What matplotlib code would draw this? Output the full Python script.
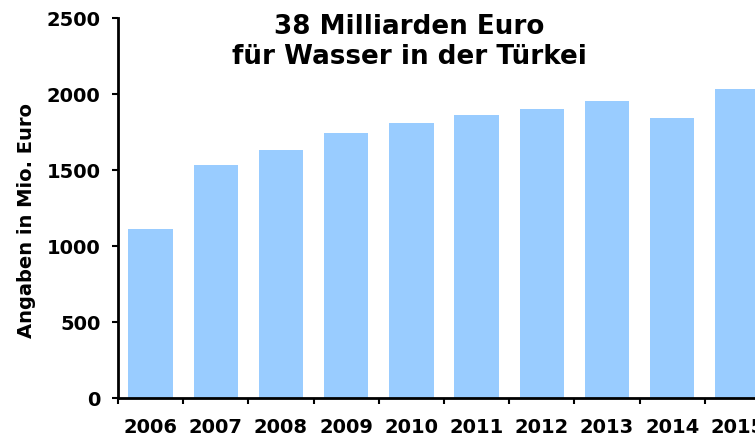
import matplotlib
matplotlib.use("Agg")
import matplotlib.pyplot as plt
import numpy as np

# Daten
jahre = ["2006", "2007", "2008", "2009", "2010", "2011", "2012", "2013", "2014", "2015"]
ausgaben = [1112, 1533, 1632, 1743, 1809, 1862, 1901, 1954, 1842, 2031]
y_ticks = [0, 500, 1000, 1500, 2000, 2500]

plt.rcParams["font.family"] = ["DejaVu Sans"]
plt.rcParams["font.weight"] = "bold"

fig = plt.figure(figsize=(7.55, 4.38), dpi=100)
# Achse reicht über den rechten Rand hinaus (wie im Original abgeschnitten)
ax = fig.add_axes([118 / 755, 40 / 438, 652 / 755, 380 / 438])

x = np.arange(len(jahre))
ax.bar(x, ausgaben, width=0.68, color="#99CCFF", zorder=2)

ax.set_xlim(-0.5, len(jahre) - 0.5)
ax.set_ylim(0, 2500)
ax.set_yticks(y_ticks)
ax.set_yticklabels([str(v) for v in y_ticks], fontsize=14, fontweight="bold")

ax.set_xticks(x)
ax.set_xticklabels(jahre, fontsize=14, fontweight="bold")
ax.set_xticks(np.arange(len(jahre) + 1) - 0.5, minor=True)
ax.tick_params(axis="x", which="major", length=0, pad=14.5)
ax.tick_params(axis="x", which="minor", length=4.5, width=1.5, direction="out")
ax.tick_params(axis="y", length=4.5, width=1.5, direction="out", pad=8)

for s in ["top", "right"]:
    ax.spines[s].set_visible(False)
for s in ["left", "bottom"]:
    ax.spines[s].set_linewidth(2)

ax.set_ylabel("Angaben in Mio. Euro", fontsize=14, fontweight="bold")
ax.yaxis.label.set_va("center")
ax.yaxis.set_label_coords((27 - 118) / 652, (398 - 220) / 380)

fig.text(409 / 755, 1 - 42 / 438, "38 Milliarden Euro\nfür Wasser in der Türkei",
         ha="center", va="center", fontsize=18.8, fontweight="bold", linespacing=1.21)

fig.savefig("out.png", dpi=100)
